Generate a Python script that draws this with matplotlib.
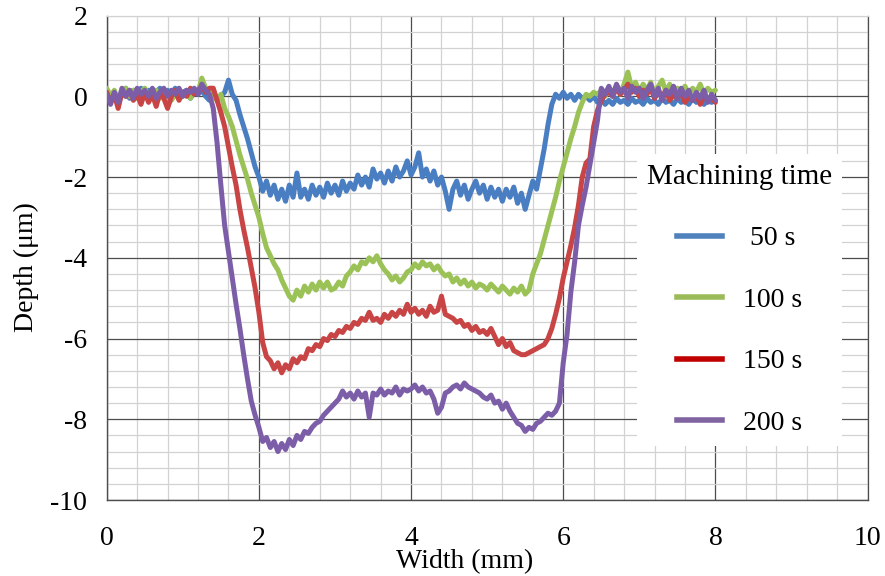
import numpy as np
import matplotlib
matplotlib.use("Agg")
import matplotlib.pyplot as plt
from matplotlib.lines import Line2D

plt.rcParams["font.family"] = ["Liberation Serif", "DejaVu Serif"]
plt.rcParams["axes.unicode_minus"] = False

# Surface profiles across the machined groove, sampled every 0.05 mm (0 .. 8 mm)
width_mm = np.linspace(0.0, 8.0, 161)

depth_50s = [
    0.15, -0.1, 0.1, -0.15, 0.05, 0.2, -0.05, 0.15, 0.0, 0.2, 0.05, 0.15, -0.05, 0.1, 0.2, 0.0, 0.15, 0.05, 0.2, 0.0,
    0.1, 0.15, -0.05, 0.1, 0.05, 0.15, 0.0, -0.1, 0.0, -0.05, 0.0, 0.1, 0.4, 0.05, -0.1, -0.45, -0.75, -1.05, -1.4, -1.75,
    -2.0, -2.35, -2.1, -2.45, -2.2, -2.55, -2.3, -2.6, -2.2, -2.5, -1.9, -2.5, -2.3, -2.55, -2.2, -2.45, -2.25, -2.5, -2.15, -2.4,
    -2.2, -2.45, -2.1, -2.35, -2.15, -2.3, -1.95, -2.2, -2.0, -2.25, -1.8, -2.05, -1.9, -2.15, -1.85, -2.1, -1.75, -2.0, -1.85, -1.6,
    -1.95, -1.75, -1.4, -2.0, -1.8, -2.1, -1.85, -2.2, -2.0, -2.35, -2.8, -2.3, -2.1, -2.45, -2.2, -2.55, -2.3, -2.1, -2.4, -2.2,
    -2.55, -2.25, -2.5, -2.3, -2.6, -2.3, -2.5, -2.25, -2.65, -2.4, -2.8, -2.45, -2.1, -2.3, -1.8, -1.3, -0.7, -0.2, 0.05, -0.05,
    0.1, -0.05, 0.05, -0.1, 0.05, -0.05, 0.0, -0.1, 0.0, -0.15, -0.05, -0.2, -0.1, -0.2, -0.05, -0.15, -0.1, -0.2, -0.05, -0.15,
    -0.1, -0.2, -0.05, -0.15, -0.1, -0.2, -0.05, -0.15, -0.1, -0.2, -0.05, -0.15, -0.1, -0.2, -0.05, -0.15, -0.1, -0.2, -0.1, -0.15,
    -0.1,
]

depth_100s = [
    0.2, 0.0, 0.15, -0.1, 0.1, 0.2, 0.0, 0.15, -0.05, 0.1, 0.2, 0.0, 0.1, 0.15, -0.05, 0.1, 0.0, -0.1, 0.05, -0.05,
    0.0, 0.1, -0.05, 0.15, 0.1, 0.45, 0.2, 0.1, 0.0, -0.1, 0.05, -0.3, -0.5, -0.75, -1.1, -1.45, -1.75, -2.05, -2.4, -2.7,
    -3.0, -3.4, -3.75, -3.95, -4.15, -4.3, -4.55, -4.75, -4.95, -5.05, -4.8, -4.95, -4.7, -4.85, -4.65, -4.8, -4.6, -4.75, -4.6, -4.8,
    -4.75, -4.6, -4.7, -4.45, -4.35, -4.2, -4.3, -4.1, -4.15, -4.0, -4.1, -3.95, -4.15, -4.3, -4.4, -4.55, -4.45, -4.6, -4.5, -4.35,
    -4.3, -4.15, -4.25, -4.1, -4.2, -4.15, -4.3, -4.2, -4.35, -4.45, -4.4, -4.6, -4.5, -4.65, -4.55, -4.7, -4.6, -4.75, -4.65, -4.7,
    -4.8, -4.65, -4.75, -4.85, -4.7, -4.8, -4.9, -4.75, -4.85, -4.7, -4.9, -4.8, -4.4, -4.15, -3.9, -3.55, -3.2, -2.85, -2.5, -2.1,
    -1.75, -1.4, -1.05, -0.75, -0.4, -0.15, 0.05, 0.0, 0.1, 0.05, 0.15, 0.0, 0.2, 0.1, 0.25, 0.05, 0.3, 0.6, 0.2, 0.35,
    0.1, 0.3, 0.15, 0.35, 0.05, 0.25, 0.4, 0.1, 0.3, 0.0, 0.2, 0.1, 0.25, 0.05, 0.2, 0.1, 0.3, 0.05, 0.2, 0.1,
    0.15,
]

depth_150s = [
    0.1, -0.15, 0.05, -0.3, 0.1, 0.0, 0.15, -0.1, 0.05, -0.2, 0.1, -0.15, 0.05, -0.25, 0.1, -0.05, -0.3, 0.0, 0.15, -0.1,
    0.1, 0.0, 0.2, 0.05, 0.15, 0.25, 0.1, 0.2, 0.2, -0.1, -0.4, -0.75, -1.25, -1.75, -2.2, -2.8, -3.3, -3.75, -4.25, -4.75,
    -5.35, -6.1, -6.45, -6.55, -6.75, -6.6, -6.85, -6.65, -6.75, -6.5, -6.6, -6.45, -6.5, -6.25, -6.3, -6.15, -6.2, -6.0, -6.05, -5.9,
    -5.95, -5.8, -5.85, -5.7, -5.75, -5.6, -5.65, -5.5, -5.55, -5.35, -5.55, -5.5, -5.6, -5.4, -5.5, -5.35, -5.45, -5.3, -5.4, -5.15,
    -5.35, -5.25, -5.4, -5.3, -5.45, -5.2, -5.35, -5.3, -4.95, -5.4, -5.45, -5.5, -5.6, -5.55, -5.7, -5.65, -5.8, -5.7, -5.85, -5.8,
    -5.9, -5.75, -5.95, -6.15, -6.0, -6.2, -6.1, -6.3, -6.35, -6.4, -6.4, -6.35, -6.3, -6.25, -6.2, -6.15, -6.0, -5.75, -5.4, -5.0,
    -4.5, -4.1, -3.7, -3.25, -2.7, -2.0, -1.65, -1.55, -0.75, -0.35, -0.1, 0.05, 0.1, 0.0, 0.2, 0.05, 0.15, 0.3, 0.1, 0.2,
    0.0, 0.15, 0.05, 0.2, -0.05, 0.1, 0.0, 0.15, -0.1, 0.05, -0.05, 0.1, -0.15, 0.0, -0.1, 0.05, -0.2, 0.0, -0.1, -0.05,
    -0.15,
]

depth_200s = [
    0.05, -0.2, 0.1, -0.15, 0.2, 0.0, 0.15, -0.05, 0.2, 0.05, 0.15, 0.0, 0.2, -0.05, 0.1, 0.2, 0.0, 0.15, 0.05, 0.2,
    0.0, 0.15, 0.1, 0.2, 0.05, 0.3, 0.15, 0.05, -0.3, -1.15, -2.2, -3.2, -3.85, -4.5, -5.15, -5.75, -6.4, -7.0, -7.55, -7.9,
    -8.2, -8.55, -8.45, -8.7, -8.55, -8.8, -8.6, -8.75, -8.5, -8.65, -8.4, -8.5, -8.3, -8.35, -8.2, -8.1, -8.05, -7.9, -7.8, -7.7,
    -7.6, -7.5, -7.3, -7.45, -7.35, -7.5, -7.3, -7.45, -7.35, -7.95, -7.35, -7.4, -7.25, -7.4, -7.3, -7.35, -7.2, -7.4, -7.25, -7.3,
    -7.25, -7.15, -7.3, -7.2, -7.35, -7.3, -7.5, -7.85, -7.7, -7.35, -7.3, -7.2, -7.15, -7.25, -7.1, -7.2, -7.25, -7.3, -7.35, -7.45,
    -7.5, -7.4, -7.6, -7.55, -7.75, -7.6, -7.8, -7.95, -8.1, -8.15, -8.3, -8.2, -8.25, -8.1, -8.05, -7.95, -7.85, -7.9, -7.8, -7.6,
    -6.6, -5.9, -4.85, -4.1, -3.2, -2.7, -2.25, -1.7, -1.15, -0.6, 0.2, 0.05, 0.25, 0.0, 0.3, 0.1, 0.2, -0.05, 0.25, 0.1,
    0.2, -0.05, 0.15, 0.3, 0.0, 0.2, -0.1, 0.15, 0.05, 0.25, -0.05, 0.2, 0.0, 0.15, -0.1, 0.1, -0.05, 0.15, -0.15, 0.05,
    -0.1,
]

series_labels = [" 50 s", "100 s", "150 s", "200 s"]
series_depths = [depth_50s, depth_100s, depth_150s, depth_200s]
line_colors = ["#4a7ec2", "#9bc257", "#c94444", "#7c5ea8"]
legend_colors = ["#4f81bd", "#9bbb59", "#c00000", "#8064a2"]

x_ticks = [0, 2, 4, 6, 8, 10]
y_ticks = [-10, -8, -6, -4, -2, 0, 2]

fig = plt.figure(figsize=(8.85, 5.76), dpi=100)
ax = fig.add_axes([0.1206, 0.1319, 0.8597, 0.8411])

for depth, color in zip(series_depths, line_colors):
    ax.plot(width_mm, depth, color=color, lw=3.6, solid_joinstyle="round",
            solid_capstyle="round", zorder=3)

ax.set_xlim(0, 10)
ax.set_ylim(-10, 2)
ax.set_xticks(x_ticks)
ax.set_yticks(y_ticks)
ax.set_xticks(np.arange(0, 10.01, 0.4), minor=True)
ax.set_yticks(np.arange(-10, 2.01, 0.4), minor=True)
ax.tick_params(which="both", length=0)
ax.tick_params(axis="x", which="major", pad=19, labelsize=20)
ax.tick_params(axis="y", which="major", pad=14, labelsize=20)

ax.grid(which="minor", color="#d2d2d2", lw=0.9, zorder=0)
ax.grid(which="major", color="#4d4d4d", lw=0.9, zorder=1)
ax.set_axisbelow(True)
# topmost horizontal line is drawn light, like the minor grid
ax.yaxis.get_major_ticks()[-1].gridline.set_color("#d2d2d2")

for side in ["left", "bottom"]:
    ax.spines[side].set_color("#4d4d4d")
    ax.spines[side].set_linewidth(1.0)
ax.spines["top"].set_color("#d2d2d2")
ax.spines["top"].set_linewidth(0.9)
ax.spines["right"].set_color("#4d4d4d")
ax.spines["right"].set_linewidth(0.9)

ax.set_xlabel("Width (mm)", fontsize=20)
ax.xaxis.set_label_coords(0.471, -0.101)
ax.set_ylabel("Depth (μm)", fontsize=20, va="center", ha="center")
ax.yaxis.set_label_coords(-0.106, 0.481)

handles = [Line2D([], [], color=c, lw=4) for c in legend_colors]
leg = ax.legend(handles, series_labels, title="Machining time", loc="center",
                bbox_to_anchor=(0.832, 0.413), fontsize=20, title_fontsize=21,
                frameon=True, fancybox=False, framealpha=1.0, edgecolor="none",
                facecolor="white", handlelength=1.6, handletextpad=0.75,
                labelspacing=1.3, borderpad=0.35, borderaxespad=0)
leg.set_zorder(5)

fig.savefig("out.png", dpi=100)
